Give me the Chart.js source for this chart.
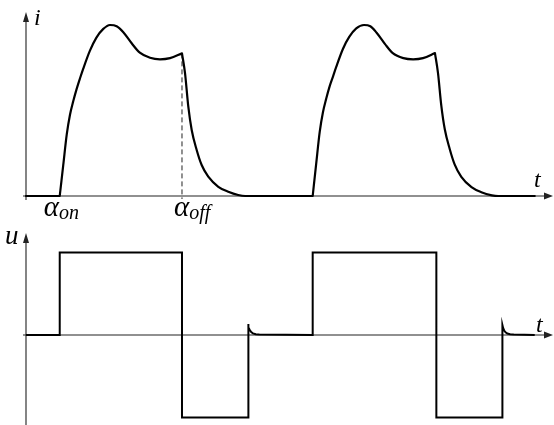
<!DOCTYPE html>
<html>
<head>
<meta charset="utf-8">
<script src="https://cdn.jsdelivr.net/npm/chart.js@4.4.1/dist/chart.umd.min.js"></script>
<style>
  html, body { margin: 0; padding: 0; background: #fff; }
  #wrap { position: relative; width: 554px; height: 425px; }
  #topBox { position: absolute; left: 0; top: 0; width: 554px; height: 225px; }
  #botBox { position: absolute; left: 0; top: 225px; width: 554px; height: 200px; }
</style>
</head>
<body>
<div id="wrap">
  <div id="topBox"><canvas id="iChart"></canvas></div>
  <div id="botBox"><canvas id="uChart"></canvas></div>
</div>
<script>
// angles in degrees, one period = 360
const alphaOn = 48;
const alphaOff = 222;
const tEnd = 750;

// current i(t), split in smooth pieces so the corners stay sharp
const tFlat0 = [0, 48];
const iFlat0 = [0, 0];
const tRise1 = [48, 53, 58, 62.6, 67.3, 72, 77, 81.5, 91, 100, 110, 119.5, 129, 138.5, 150.4, 162, 176.5, 190.7, 205, 222];
const iRise1 = [0, 0.18, 0.36, 0.475, 0.555, 0.625, 0.69, 0.745, 0.85, 0.925, 0.977, 1.0, 0.993, 0.958, 0.893, 0.838, 0.808, 0.799, 0.806, 0.834];
const tFall1 = [222, 226.3, 231, 235.8, 242.9, 250, 259.4, 273.7, 287.9, 302, 312, 408];
const iFall1 = [0.834, 0.719, 0.522, 0.386, 0.269, 0.181, 0.113, 0.054, 0.025, 0.006, 0, 0];
const tRise2 = [408, 413, 418, 422.6, 427.3, 432, 437, 441.5, 451, 460, 470, 481, 490, 499, 511, 522, 537, 551, 565, 582];
const iRise2 = [0, 0.19, 0.375, 0.49, 0.57, 0.64, 0.7, 0.755, 0.86, 0.93, 0.98, 1.0, 0.993, 0.955, 0.888, 0.835, 0.806, 0.799, 0.806, 0.836];
const tFall2 = [582, 586.3, 591, 596, 603, 610, 619.5, 634, 648, 663, 672, 724];
const iFall2 = [0.836, 0.72, 0.53, 0.39, 0.275, 0.185, 0.112, 0.052, 0.022, 0.004, 0, 0];

// voltage u(t)
const tU = [0, 48, 48, 222, 222, 316, 316, 317, 318.5, 320.5, 323, 327, 332, 408, 408, 584, 584, 678, 678, 679, 680.5, 682.5, 685, 689, 694, 724];
const uU = [0, 0, 1, 1, -1, -1, 0.133, 0.09, 0.06, 0.035, 0.02, 0.01, 0.005, 0, 1, 1, -1, -1, 0.121, 0.085, 0.055, 0.032, 0.018, 0.01, 0.005, 0];

const serif = '"Liberation Serif", "Times New Roman", serif';
const ink = '#000';

function pieces(list) {
  // join [t, v] pieces with a gap so each one is splined on its own
  const out = [];
  list.forEach(([ts, vs], k) => {
    if (k > 0) out.push({ x: ts[0], y: null });
    ts.forEach((t, j) => out.push({ x: t, y: vs[j] }));
  });
  return out;
}

function drawSub(ctx, main, sub, x, y, size, subSize) {
  ctx.font = `italic ${size}px ${serif}`;
  ctx.fillText(main, x, y);
  const w = ctx.measureText(main).width;
  ctx.font = `italic ${subSize}px ${serif}`;
  ctx.fillText(sub, x + w, y + 3);
}

const axesPlugin = {
  id: 'axes',
  beforeDatasetsDraw(chart, args, opts) {
    const { ctx, chartArea } = chart;
    const { x, y } = chart.scales;
    const x0 = x.getPixelForValue(0);
    const y0 = y.getPixelForValue(0);
    ctx.save();
    ctx.strokeStyle = '#222';
    ctx.fillStyle = '#222';
    ctx.lineWidth = 1.1;
    ctx.beginPath();
    ctx.moveTo(x0 - 3, y0);
    ctx.lineTo(chartArea.right - 6, y0);
    ctx.moveTo(x0, opts.below === undefined ? chartArea.bottom : y0 + opts.below);
    ctx.lineTo(x0, chartArea.top + 6);
    ctx.stroke();
    // arrow heads
    ctx.beginPath();
    ctx.moveTo(chartArea.right, y0);
    ctx.lineTo(chartArea.right - 9, y0 - 3.5);
    ctx.lineTo(chartArea.right - 9, y0 + 3.5);
    ctx.closePath();
    ctx.moveTo(x0, chartArea.top);
    ctx.lineTo(x0 - 3, chartArea.top + 10);
    ctx.lineTo(x0 + 3, chartArea.top + 10);
    ctx.closePath();
    ctx.fill();
    ctx.restore();
  }
};

const iLabels = {
  id: 'iLabels',
  beforeDatasetsDraw(chart) {
    const { ctx } = chart;
    const { x, y } = chart.scales;
    const y0 = y.getPixelForValue(0);
    const xOff = x.getPixelForValue(alphaOff);
    ctx.save();
    ctx.strokeStyle = '#222';
    ctx.lineWidth = 1;
    ctx.setLineDash([5, 3]);
    ctx.beginPath();
    ctx.moveTo(xOff, y.getPixelForValue(iRise1[iRise1.length - 1]));
    ctx.lineTo(xOff, y0 + 3);
    ctx.stroke();
    ctx.restore();
  },
  afterDatasetsDraw(chart) {
    const { ctx, chartArea } = chart;
    const { x, y } = chart.scales;
    const x0 = x.getPixelForValue(0);
    const y0 = y.getPixelForValue(0);
    ctx.save();
    ctx.fillStyle = ink;
    ctx.textBaseline = 'alphabetic';
    ctx.font = `italic 24px ${serif}`;
    ctx.fillText('i', x0 + 8, chartArea.top + 13);
    ctx.fillText('t', chartArea.right - 19, y0 - 9);
    drawSub(ctx, 'α', 'on', x.getPixelForValue(alphaOn) - 16, y0 + 20, 29, 20);
    drawSub(ctx, 'α', 'off', x.getPixelForValue(alphaOff) - 8, y0 + 20, 29, 20);
    ctx.restore();
  }
};

const uLabels = {
  id: 'uLabels',
  afterDatasetsDraw(chart) {
    const { ctx, chartArea } = chart;
    const { x, y } = chart.scales;
    const x0 = x.getPixelForValue(0);
    const y0 = y.getPixelForValue(0);
    ctx.save();
    ctx.fillStyle = ink;
    ctx.font = `italic 27px ${serif}`;
    ctx.fillText('u', x0 - 21, chartArea.top + 11);
    ctx.font = `italic 24px ${serif}`;
    ctx.fillText('t', chartArea.right - 17, y0 - 3);
    ctx.restore();
  }
};

const lineStyle = {
  borderColor: ink,
  borderWidth: 2.2,
  pointRadius: 0,
  borderCapStyle: 'round',
  borderJoinStyle: 'round',
  clip: false,
  spanGaps: false
};

function baseOptions(yMin, yMax, padding) {
  return {
    responsive: true,
    maintainAspectRatio: false,
    animation: false,
    devicePixelRatio: 1,
    layout: { padding },
    plugins: { legend: { display: false }, tooltip: { enabled: false } },
    scales: {
      x: { type: 'linear', min: 0, max: tEnd, display: false },
      y: { type: 'linear', min: yMin, max: yMax, display: false }
    }
  };
}

const iOptions = baseOptions(0, 1.076, { left: 26, right: 1, top: 12, bottom: 29 });
iOptions.plugins.axes = { below: 4 };

new Chart(document.getElementById('iChart'), {
  type: 'line',
  data: {
    datasets: [{
      ...lineStyle,
      cubicInterpolationMode: 'monotone',
      data: pieces([[tFlat0, iFlat0], [tRise1, iRise1], [tFall1, iFall1], [tRise2, iRise2], [tFall2, iFall2]])
    }]
  },
  options: iOptions,
  plugins: [axesPlugin, iLabels]
});

const uOptions = baseOptions(-1.09, 1.236, { left: 26, right: 1, top: 8, bottom: 0 });
uOptions.plugins.axes = {};

new Chart(document.getElementById('uChart'), {
  type: 'line',
  data: {
    datasets: [{
      ...lineStyle,
      borderWidth: 2,
      borderJoinStyle: 'miter',
      borderCapStyle: 'butt',
      tension: 0,
      data: tU.map((t, k) => ({ x: t, y: uU[k] }))
    }]
  },
  options: uOptions,
  plugins: [axesPlugin, uLabels]
});
</script>
</body>
</html>
